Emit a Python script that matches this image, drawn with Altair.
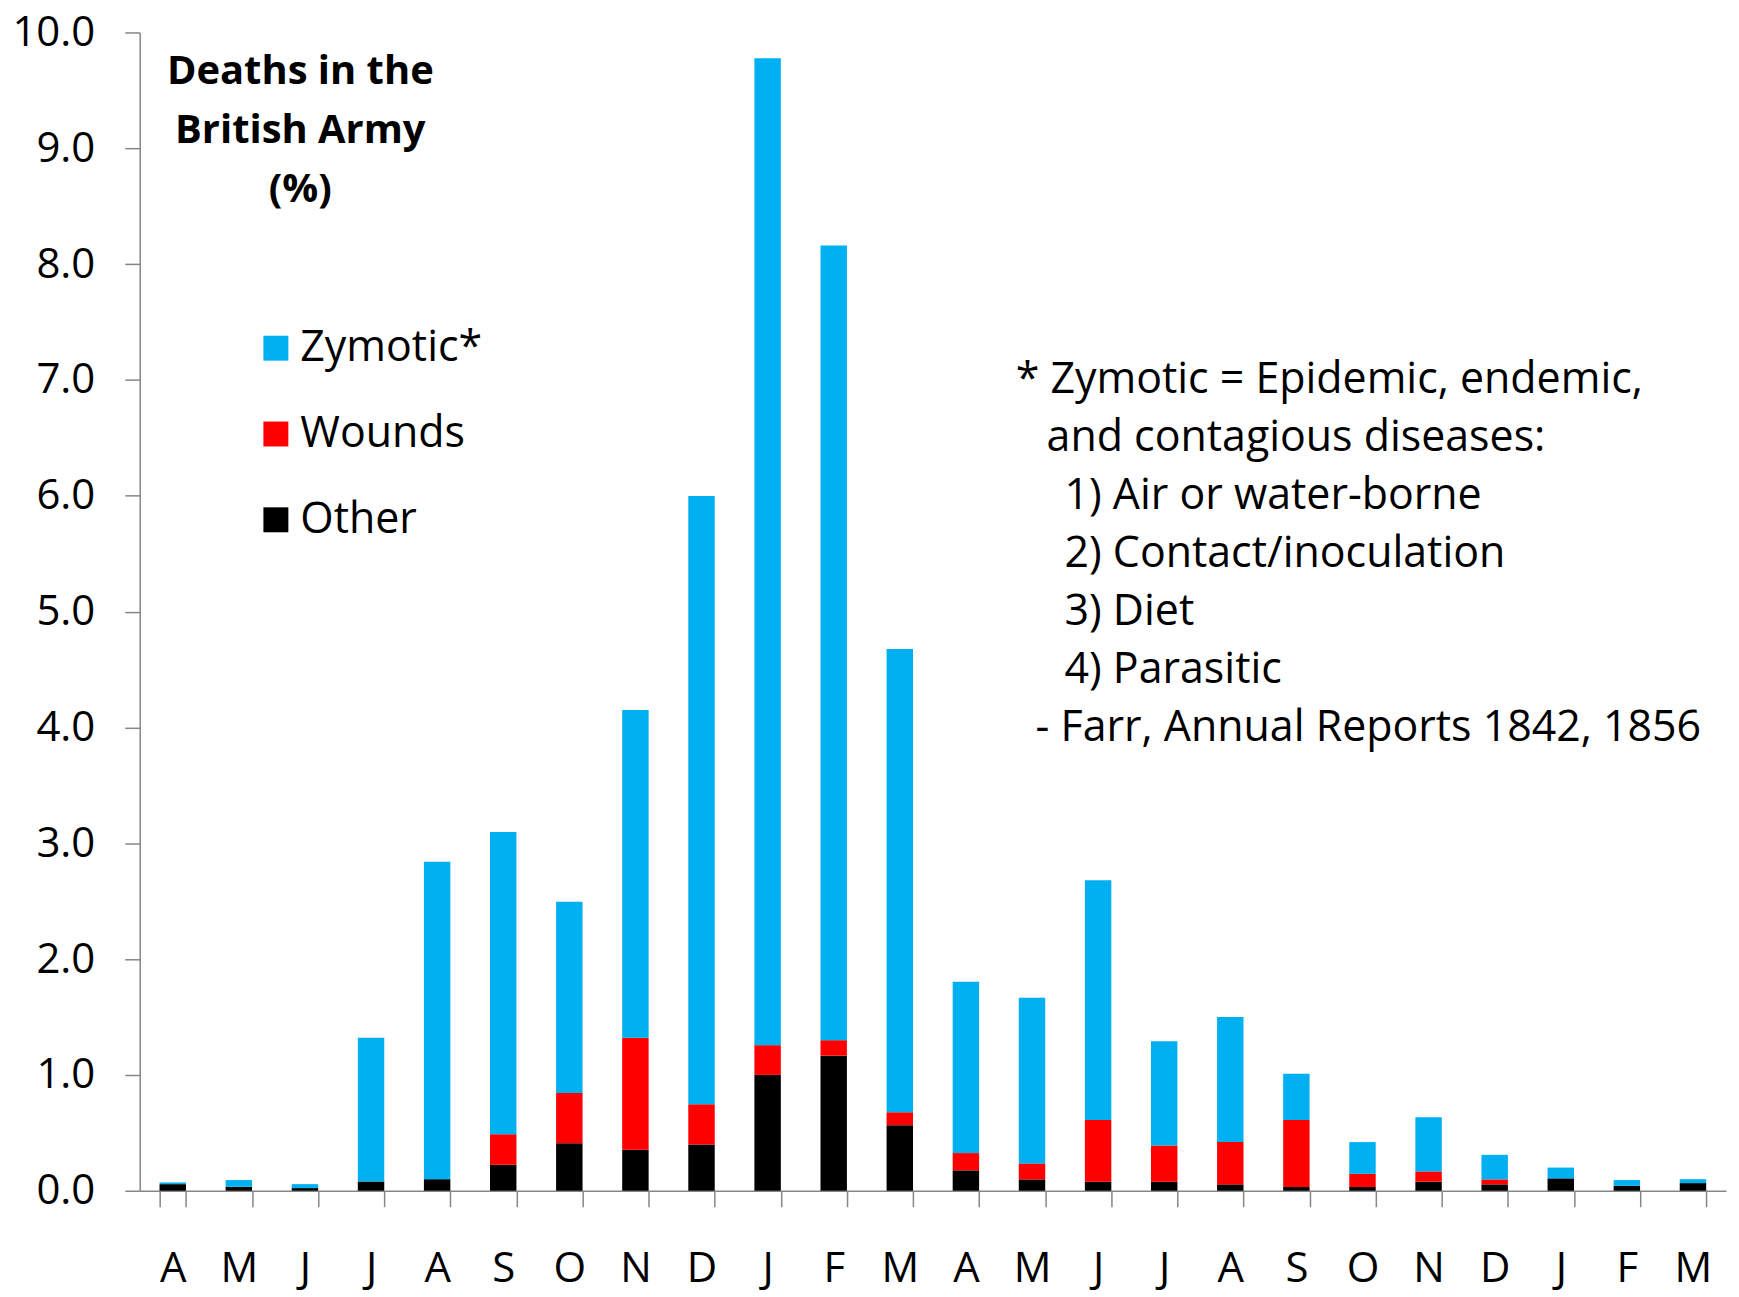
import altair as alt
import pandas as pd

months = ["A", "M", "J", "J", "A", "S", "O", "N", "D", "J", "F", "M",
          "A", "M", "J", "J", "A", "S", "O", "N", "D", "J", "F", "M"]
other = [0.057, 0.034, 0.023, 0.08, 0.10, 0.224, 0.41, 0.353, 0.40, 1.00, 1.166, 0.566,
         0.176, 0.098, 0.078, 0.078, 0.055, 0.032, 0.032, 0.078, 0.055, 0.107, 0.043, 0.066]
wounds = [0.0, 0.0, 0.0, 0.0, 0.0, 0.264, 0.434, 0.967, 0.347, 0.257, 0.134, 0.112,
          0.149, 0.138, 0.532, 0.312, 0.365, 0.578, 0.114, 0.089, 0.043, 0.0, 0.0, 0.0]
zymotic = [0.015, 0.058, 0.034, 1.24, 2.74, 2.61, 1.65, 2.83, 5.25, 8.52, 6.86, 4.00,
           1.48, 1.43, 2.07, 0.90, 1.08, 0.40, 0.274, 0.468, 0.212, 0.093, 0.049, 0.034]
causes = ["Zymotic*", "Wounds", "Other"]
colors = ["#00B0F0", "#FF0000", "#000000"]
title_lines = ["Deaths in the", "British Army", "(%)"]
note_lines = ["* Zymotic = Epidemic, endemic,", "and contagious diseases:",
              "1) Air or water-borne", "2) Contact/inoculation", "3) Diet",
              "4) Parasitic", "- Farr, Annual Reports 1842, 1856"]

FONT = "Open Sans"
FS = 40
W, H = 1590, 1161

rows = []
for i in range(len(months)):
    for c, vals, order in (("Other", other, 0), ("Wounds", wounds, 1), ("Zymotic*", zymotic, 2)):
        rows.append({"idx": i, "month": months[i], "cause": c, "value": vals[i], "ord": order})
df = pd.DataFrame(rows)

label_expr = "[" + ",".join(f"'{m}'" for m in months) + "][datum.value]"

bars = alt.Chart(df).mark_bar().encode(
    x=alt.X("idx:O", scale=alt.Scale(paddingInner=0.6, paddingOuter=0.3),
            axis=alt.Axis(title=None, labelExpr=label_expr, labelAngle=0,
                          labelFont=FONT, labelFontSize=42, labelColor="#000000",
                          labelPadding=42, tickBand="extent", tickSize=16,
                          tickColor="#868686", domainColor="#868686",
                          tickWidth=1.5, domainWidth=1.5)),
    y=alt.Y("value:Q", stack="zero",
            scale=alt.Scale(domain=[0, 10], nice=False),
            axis=alt.Axis(title=None, values=list(range(11)), format=".1f",
                          labelFont=FONT, labelFontSize=42, labelColor="#000000",
                          labelPadding=30, tickSize=15, tickColor="#868686",
                          domainColor="#868686", grid=False,
                          tickWidth=1.5, domainWidth=1.5)),
    color=alt.Color("cause:N", scale=alt.Scale(domain=causes, range=colors),
                    legend=alt.Legend(orient="none", legendX=115, legendY=295,
                                      title=None, symbolType="square",
                                      symbolSize=625, symbolStrokeWidth=0,
                                      labelFont=FONT, labelFontSize=43,
                                      labelColor="#000000", rowPadding=42,
                                      labelOffset=3, labelLimit=400)),
    order=alt.Order("ord:Q", sort="ascending"),
)

tdf = pd.DataFrame({"text": title_lines, "i": list(range(len(title_lines)))})
title = alt.Chart(tdf).mark_text(font=FONT, fontSize=FS, fontWeight="bold",
                                 align="center", baseline="middle", color="#000000").transform_calculate(
    py="40 + datum.i * 59"
).encode(
    x=alt.value(161),
    y=alt.Y("py:Q", scale=None),
    text="text:N",
)

indent = [878, 909, 927, 927, 927, 927, 898]
ndf = pd.DataFrame({"text": note_lines, "i": list(range(len(note_lines))), "px": indent})
notes = alt.Chart(ndf).mark_text(font=FONT, fontSize=43, align="left",
                                 baseline="middle", color="#000000").transform_calculate(
    py="348 + datum.i * 58.2"
).encode(
    x=alt.X("px:Q", scale=None),
    y=alt.Y("py:Q", scale=None),
    text="text:N",
)

chart = alt.layer(bars, title, notes).properties(
    width=W, height=H,
    autosize=alt.AutoSizeParams(type="none"),
    padding={"left": 132, "top": 23, "right": 5, "bottom": 102},
    background="white",
).configure_view(stroke=None)

chart.save("out.html", embed_options={"renderer": "svg", "actions": False})
